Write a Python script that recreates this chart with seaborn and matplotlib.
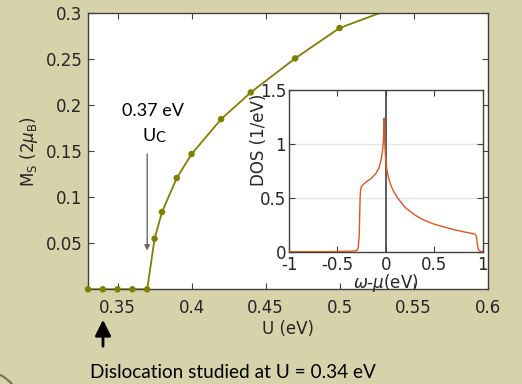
import numpy as np
import pandas as pd
import matplotlib
matplotlib.use("Agg")
import matplotlib.pyplot as plt
import seaborn as sns

# --- donnees ---
U = [0.33, 0.34, 0.35, 0.36, 0.37, 0.375, 0.38, 0.39, 0.40, 0.42, 0.44, 0.47, 0.50, 0.55]
Ms = [0.0, 0.0, 0.0, 0.0, 0.0, 0.055, 0.084, 0.121, 0.147, 0.185, 0.214, 0.251, 0.284, 0.314]

omega = [-1.0, -0.6, -0.35, -0.30, -0.285, -0.275, -0.27, -0.265, -0.26, -0.25, -0.20, -0.15,
         -0.10, -0.07, -0.05, -0.035, -0.025, -0.017, -0.012, -0.008, 0.0, 0.01, 0.03, 0.05,
         0.08, 0.12, 0.2, 0.3, 0.4, 0.5, 0.6, 0.7, 0.8, 0.9, 0.92, 0.935, 0.945, 0.955, 0.97, 1.0]
dos = [0.0, 0.0, 0.005, 0.01, 0.04, 0.15, 0.35, 0.52, 0.58, 0.61, 0.65, 0.68,
       0.73, 0.78, 0.85, 0.93, 1.03, 1.24, 1.05, 0.95, 0.84, 0.76, 0.68, 0.62,
       0.56, 0.50, 0.41, 0.34, 0.29, 0.255, 0.23, 0.205, 0.185, 0.168, 0.163, 0.14, 0.07, 0.02, 0.005, 0.0]

main_xticks = [0.35, 0.4, 0.45, 0.5, 0.55, 0.6]
main_yticks = [0.05, 0.1, 0.15, 0.2, 0.25, 0.3]
ins_xticks = [-1, -0.5, 0, 0.5, 1]
ins_yticks = [0, 0.5, 1, 1.5]

sns.set_theme(style="ticks")
plt.rcParams["font.family"] = ["DejaVu Sans"]
BG = "#D6D2AA"
OLIVE = "#808000"
ORANGE = "#E2561E"
SPINE = "#404040"
TXT = "#262626"
W, H = 522, 384


def fx(px):
    return px / W


def fy(py):
    return 1 - py / H


def style(ax, pad_x, pad_y):
    for s in ax.spines.values():
        s.set_color(SPINE); s.set_linewidth(1.0)
    ax.tick_params(direction="in", top=True, right=True, length=4, width=0.8,
                   color=SPINE, labelcolor=TXT, labelsize=12)
    ax.tick_params(axis="x", pad=pad_x)
    ax.tick_params(axis="y", pad=pad_y)


fig = plt.figure(figsize=(W / 100, H / 100), dpi=100)
fig.patch.set_facecolor(BG)

# --- axe principal ---
ax = fig.add_axes([fx(88), fy(289.3), fx(487.5 - 88), (289.3 - 13.3) / H])
ax.set_facecolor("white")
sns.lineplot(x=U, y=Ms, ax=ax, color=OLIVE, lw=1.3, sort=False, estimator=None)
inside = [i for i, u in enumerate(U) if u <= 0.6 and Ms[i] <= 0.3]
sns.scatterplot(x=[U[i] for i in inside], y=[Ms[i] for i in inside], ax=ax, color=OLIVE,
                s=22, edgecolor="none", clip_on=False, zorder=5)
ax.set_xlim(0.33, 0.6); ax.set_ylim(0, 0.3)
ax.set_xticks(main_xticks); ax.set_yticks(main_yticks)
ax.set_xticklabels([f"{t:g}" for t in main_xticks])
ax.set_yticklabels([f"{t:g}" for t in main_yticks])
style(ax, 7, 4)
ax.set_xlabel("U (eV)", fontsize=12, color=TXT, labelpad=2)
ax.set_ylabel(r"M$_{\rm S}$ (2$\mu_{\rm B}$)", fontsize=12, color=TXT, labelpad=4)

ax.annotate("", xy=(0.37, 0.039), xytext=(0.37, 0.150),
            arrowprops=dict(arrowstyle="-|>", color="#6a6a6a", lw=1.0, mutation_scale=8))

# --- encart DOS ---
ax2 = fig.add_axes([fx(289), fy(251.7), fx(193.7), 161.7 / H])
ax2.set_facecolor("white")
for g in [0.5, 1.0]:
    ax2.axhline(g, color="#e6e6e6", lw=1.0, zorder=0)
ax2.axvline(0, color=SPINE, lw=1.2, zorder=1)
sns.lineplot(x=omega, y=dos, ax=ax2, color=ORANGE, lw=1.0, sort=False, estimator=None, zorder=3)
ax2.set_xlim(-1, 1); ax2.set_ylim(0, 1.5)
ax2.set_xticks(ins_xticks); ax2.set_yticks(ins_yticks)
ax2.set_xticklabels([f"{t:g}" for t in ins_xticks])
ax2.set_yticklabels([f"{t:g}" for t in ins_yticks])
style(ax2, 3, 2)
ax2.set_xlabel(r"$\omega$-$\mu$(eV)", fontsize=12, color=TXT, labelpad=-1)
ax2.set_ylabel("DOS (1/eV)", fontsize=12, color=TXT)
ax2.yaxis.set_label_coords(-0.108, 0.69)

# --- annotations texte ---
cal = ["Lato", "DejaVu Sans"]
fig.text(fx(153), fy(111), "0.37 eV", family=cal, fontsize=13, color="black", ha="center", va="center")
fig.text(fx(149), fy(141.5), "U", family=cal, fontsize=13, color="black", ha="center", va="baseline")
fig.text(fx(160), fy(142.5), "C", family=cal, fontsize=10.5, color="black", ha="center", va="baseline")

fig.text(fx(90), fy(372), "Dislocation studied at U = 0.34 eV", family=cal, fontsize=13.7,
         color="black", ha="left", va="center")
ax.annotate("", xy=(fx(103), fy(317)), xytext=(fx(103), fy(349)),
            xycoords="figure fraction", textcoords="figure fraction",
            arrowprops=dict(arrowstyle="-|>", color="black", lw=2.0, mutation_scale=24),
            annotation_clip=False)

# petit arc decoratif en bas a gauche
t = np.linspace(0, 1, 20)
fig.add_artist(plt.Line2D(fx(t * 12), fy(375 + 9 * t ** 1.3), color="#77734f", lw=1.5))

fig.savefig("out.png", dpi=100, facecolor=BG)
